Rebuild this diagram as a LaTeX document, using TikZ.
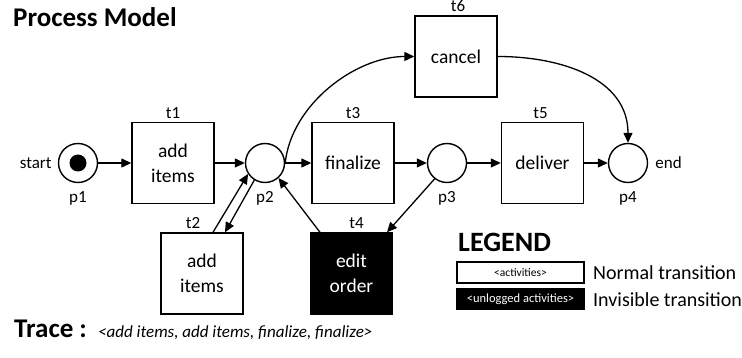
\documentclass[tikz,border=0pt]{standalone}
\usepackage{fontspec}
\setmainfont{Carlito}
\usetikzlibrary{arrows.meta}
\begin{document}
\begin{tikzpicture}[x=1pt,y=-1pt,
  lbl/.style={font=\fontsize{17}{20}\selectfont, inner sep=0pt},
  trans/.style={draw, line width=1.4pt, minimum width=82pt, minimum height=81pt,
    inner sep=0pt, align=center, font=\fontsize{19.5}{25}\selectfont},
  hidden/.style={trans, fill=black, text=white},
  place/.style={circle, draw, line width=1.4pt, minimum size=39pt, inner sep=0pt},
  arc/.style={line width=1.3pt, -{Triangle[length=10pt,width=9pt]}},
  legbox/.style={draw, line width=1.2pt, minimum width=127pt, minimum height=21pt,
    inner sep=0pt}
]
\useasboundingbox (0,0) rectangle (742,358);

% heading
\node[anchor=base west, inner sep=0pt, font=\bfseries\fontsize{27}{30}\selectfont] (title) at (13,27) {Process Model};

% places
\node[place] (p1) at (78,163) {};
\fill (p1.center) circle (8.5pt);
\node[place] (p2) at (265,163) {};
\node[place] (p3) at (447,163) {};
\node[place] (p4) at (628,163) {};

% transitions
\node[trans] (t1) at (173,163) {add\\items};
\node[trans] (t3) at (353,163) {finalize};
\node[trans] (t5) at (542.5,163) {deliver};
\node[trans] (t6) at (456,56.5) {cancel};
\node[trans] (t2) at (202,273.5) {add\\items};
\node[hidden] (t4) at (351.5,273.5) {edit\\order};

% labels
\node[lbl, anchor=east] (lstart) at ([xshift=-6pt]p1.west) {start};
\node[lbl, anchor=west] (lend) at ([xshift=7pt]p4.east) {end};
\foreach \p in {p1,p2,p3,p4}
  \node[lbl] (l\p) at ([yshift=-15pt]\p.south) {\p};
\foreach \t/\dx in {t1/0,t2/-9,t3/0,t4/5,t5/-2,t6/2}
  \node[lbl, anchor=south] (l\t) at ([xshift=\dx pt, yshift=3pt]\t.north) {\t};

% arcs
\draw[arc] (p1) -- (t1);
\draw[arc] (t1) -- (p2);
\draw[arc] (p2) -- (t3);
\draw[arc] (t3) -- (p3);
\draw[arc] (p3) -- (t5);
\draw[arc] (t5) -- (p4);
\draw[arc] (p2.east) to[out=84, in=180, looseness=0.9] (t6.west);
\draw[arc] (t6.east) to[out=0, in=90, looseness=1.05] (p4.north);
\draw[arc] ([xshift=11pt]t2.north) -- (p2.213);
\draw[arc] (p2.238) -- ([xshift=23pt]t2.north);
\draw[arc] ([xshift=-31.5pt]t4.north) -- (p2.312);
\draw[arc] (p3.232) -- ([xshift=35.5pt]t4.north);

% legend
\node[anchor=base west, inner sep=0pt, font=\bfseries\fontsize{28}{30}\selectfont] (leg) at (458,252) {LEGEND};
\node[legbox, font=\fontsize{11.5}{13}\selectfont] (lb1) at (520.5,272.5) {<activities>};
\node[legbox, fill=black, text=white, font=\fontsize{12.5}{14}\selectfont] (lb2) at (520.5,299) {<unlogged activities>};
\node[anchor=west, inner sep=0pt, font=\fontsize{20}{22}\selectfont] (ln) at (593,272.5) {Normal transition};
\node[anchor=west, inner sep=0pt, font=\fontsize{20}{22}\selectfont] (li) at (593,299.5) {Invisible transition};

% trace
\node[anchor=base west, inner sep=0pt, font=\bfseries\fontsize{27}{30}\selectfont] (trace) at (14,337) {Trace :};
\node[anchor=base west, inner sep=0pt, font=\itshape\fontsize{17}{20}\selectfont] (tracetxt) at (98,337) {<add items, add items, finalize, finalize>};
\end{tikzpicture}
\end{document}
